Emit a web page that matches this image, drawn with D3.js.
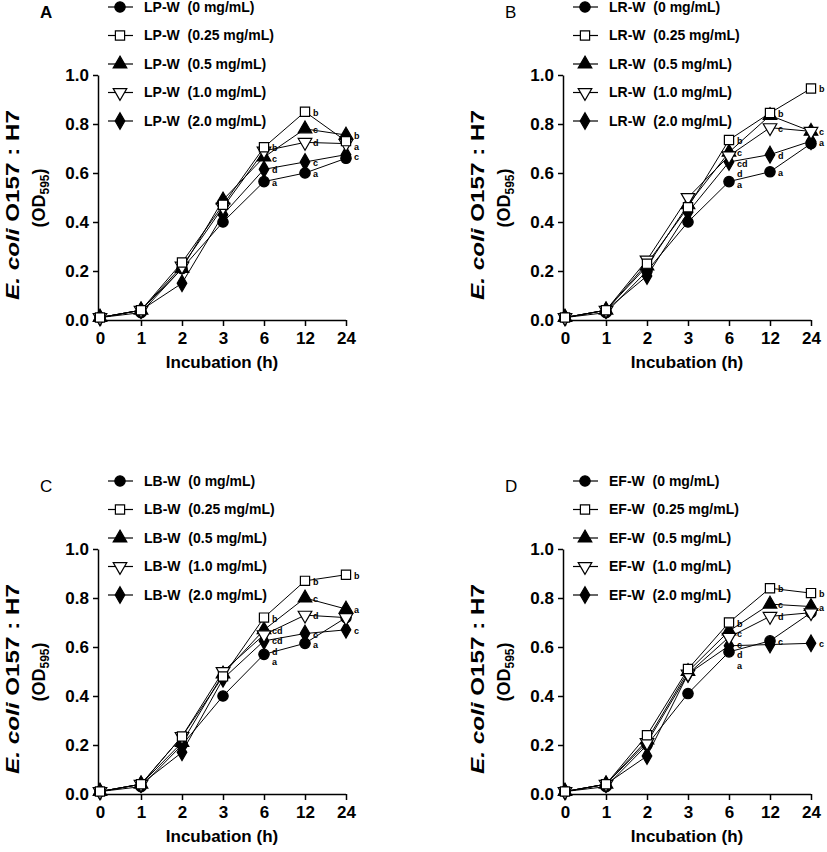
<!DOCTYPE html>
<html><head><meta charset="utf-8">
<script src="https://cdn.jsdelivr.net/npm/d3@7"></script>
<style>
body{margin:0;background:#fff;}
svg{font-family:"Liberation Sans",Arial,sans-serif;}
</style></head>
<body><svg id="c" width="827" height="852"></svg>
<script>
// ---------- data ----------
const hours = ["0","1","2","3","6","12","24"];
const concentrations = ["0 mg/mL","0.25 mg/mL","0.5 mg/mL","1.0 mg/mL","2.0 mg/mL"];
const yTicks = [0.0,0.2,0.4,0.6,0.8,1.0];
const panelLetters = ["A","B","C","D"];
const extracts = ["LP-W","LR-W","LB-W","EF-W"];

const seriesA = [
  [0.01,0.03,0.21,0.40,0.565,0.600,0.660],
  [0.01,0.04,0.235,0.47,0.705,0.850,0.730],
  [0.01,0.04,0.21,0.49,0.665,0.780,0.755],
  [0.01,0.04,0.22,0.46,0.690,0.725,0.720],
  [0.01,0.04,0.15,0.43,0.615,0.645,0.675]
];
const seriesB = [
  [0.01,0.03,0.20,0.40,0.565,0.605,0.720],
  [0.01,0.04,0.23,0.46,0.735,0.845,0.945],
  [0.01,0.04,0.22,0.47,0.685,0.835,0.770],
  [0.01,0.04,0.245,0.50,0.670,0.785,0.770],
  [0.01,0.04,0.18,0.44,0.645,0.675,0.730]
];
const seriesC = [
  [0.01,0.03,0.20,0.40,0.570,0.615,0.720],
  [0.01,0.04,0.235,0.48,0.720,0.870,0.895],
  [0.01,0.04,0.21,0.49,0.670,0.800,0.755],
  [0.01,0.04,0.235,0.50,0.650,0.730,0.720],
  [0.01,0.04,0.17,0.47,0.625,0.655,0.670]
];
const seriesD = [
  [0.01,0.03,0.20,0.41,0.580,0.625,0.740],
  [0.01,0.04,0.24,0.51,0.700,0.840,0.820],
  [0.01,0.04,0.22,0.50,0.665,0.775,0.765],
  [0.01,0.04,0.21,0.49,0.640,0.725,0.740],
  [0.01,0.04,0.155,0.49,0.605,0.610,0.615]
];
// significance letters: [series index, hour index, letter]
const lettersA = [[1,4,"b"],[2,4,"c"],[4,4,"d"],[0,4,"a"],[1,5,"b"],[2,5,"c"],[3,5,"d"],[4,5,"c"],[0,5,"a"],[2,6,"b"],[1,6,"a"],[4,6,"c"]];
const lettersB = [[1,4,"b"],[2,4,"c"],[3,4,"cd"],[4,4,"d"],[0,4,"a"],[1,5,"b"],[3,5,"c"],[4,5,"d"],[0,5,"a"],[1,6,"b"],[2,6,"c"],[4,6,"a"]];
const lettersC = [[1,4,"b"],[2,4,"cd"],[3,4,"cd"],[4,4,"d"],[0,4,"a"],[1,5,"b"],[2,5,"c"],[3,5,"d"],[4,5,"c"],[0,5,"a"],[1,6,"b"],[2,6,"a"],[4,6,"c"]];
const lettersD = [[1,4,"b"],[2,4,"c"],[3,4,"c"],[4,4,"d"],[0,4,"a"],[1,5,"b"],[2,5,"c"],[3,5,"d"],[0,5,"c"],[1,6,"b"],[2,6,"a"],[4,6,"c"]];

const allSeries = [seriesA,seriesB,seriesC,seriesD];
const allLetters = [lettersA,lettersB,lettersC,lettersD];

// ---------- layout ----------
const panels = [
  {ax:98, top:75, bottom:320},
  {ax:563, top:75, bottom:320},
  {ax:98, top:549, bottom:794},
  {ax:563, top:549, bottom:794}
];
const svg = d3.select("#c");

const symDefs = [
  {type:d3.symbolCircle, size:85, fill:"#000", rot:0},
  {type:d3.symbolSquare, size:85, fill:"#fff", rot:0},
  {type:d3.symbolTriangle, size:80, fill:"#000", rot:0},
  {type:d3.symbolTriangle, size:80, fill:"#fff", rot:180},
  {type:d3.symbolDiamond, size:80, fill:"#000", rot:0}
];
function drawSym(g, k, x, y){
  const s = symDefs[k];
  g.append("path")
    .attr("d", d3.symbol().type(s.type).size(s.size)())
    .attr("transform", `translate(${x},${y}) rotate(${s.rot})`)
    .attr("fill", s.fill).attr("stroke","#000").attr("stroke-width",1.2);
}

panels.forEach((p, pi) => {
  const g = svg.append("g");
  const x = d3.scalePoint().domain(hours).range([p.ax+2, p.ax+248]);
  const y = d3.scaleLinear().domain([0,1]).range([p.bottom, p.top]);

  // y axis
  const yAx = g.append("g").attr("transform",`translate(${p.ax},0)`)
    .call(d3.axisLeft(y).tickValues(yTicks).tickFormat(d3.format(".1f")).tickSize(5).tickSizeOuter(0));
  yAx.select(".domain").attr("stroke-width",1.5);
  yAx.selectAll(".tick line").attr("stroke-width",1.5);
  yAx.selectAll("text").attr("font-size",17).attr("font-weight","bold").attr("font-family","Liberation Sans, Arial").attr("dx",-1);

  // x axis
  const xAx = g.append("g").attr("transform",`translate(0,${p.bottom})`)
    .call(d3.axisBottom(x).tickSize(6).tickSizeOuter(0));
  xAx.select(".domain").attr("d",`M${p.ax},0.5H${p.ax+248}`).attr("stroke-width",1.5);
  xAx.selectAll(".tick line").attr("stroke-width",1.5);
  xAx.selectAll("text").attr("font-size",17).attr("font-weight","bold").attr("font-family","Liberation Sans, Arial").attr("dy","0.9em");

  // x title
  g.append("text").attr("x", p.ax+124).attr("y", p.bottom+48)
    .attr("text-anchor","middle").attr("font-size",17).attr("font-weight","bold")
    .text("Incubation (h)");

  // y title
  const yl1 = g.append("text")
    .attr("transform",`translate(${p.ax-79},${p.top+130}) rotate(-90)`)
    .attr("text-anchor","middle").attr("font-size",18).attr("font-weight","bold")
    .attr("textLength",190).attr("lengthAdjust","spacingAndGlyphs");
  yl1.append("tspan").attr("font-style","italic").text("E. coli");
  yl1.append("tspan").text(" O157 : H7");
  const yl2 = g.append("text")
    .attr("transform",`translate(${p.ax-53},${p.top+123}) rotate(-90)`)
    .attr("text-anchor","middle").attr("font-size",18).attr("font-weight","bold");
  yl2.append("tspan").text("(OD");
  yl2.append("tspan").attr("font-size",12).attr("dy",4).text("595");
  yl2.append("tspan").attr("dy",-4).text(")");

  // panel letter
  g.append("text").attr("x", p.ax-58).attr("y", p.top-57)
    .attr("font-size",17).attr("font-weight", pi===0?"bold":"normal")
    .text(panelLetters[pi]);

  // lines
  const data = allSeries[pi];
  const line = d3.line().x((d,i)=>x(hours[i])).y(d=>y(d));
  data.forEach((s,k)=>{
    g.append("path").attr("d", line(s)).attr("fill","none").attr("stroke","#000").attr("stroke-width",1);
  });
  // markers
  [0,4,2,3,1].forEach(k=>{
    data[k].forEach((v,i)=> drawSym(g,k,x(hours[i]),y(v)));
  });
  // letters with simple vertical collision avoidance per hour column
  const byHour = d3.group(allLetters[pi], d=>d[1]);
  byHour.forEach((arr, i)=>{
    const items = arr.map(([k,ii,t])=>({t, py: y(data[k][ii])+4}))
      .sort((a,b)=>a.py-b.py);
    for(let j=1;j<items.length;j++){
      if(items[j].py - items[j-1].py < 10.5) items[j].py = items[j-1].py + 10.5;
    }
    items.forEach(it=>{
      g.append("text").attr("x", x(hours[i])+8).attr("y", it.py)
        .attr("font-size",9).attr("font-weight","bold").text(it.t);
    });
  });

  // legend
  concentrations.forEach((c,k)=>{
    const ly = p.top - 68 + k*28.5;
    g.append("line").attr("x1",p.ax+10).attr("x2",p.ax+35).attr("y1",ly).attr("y2",ly)
      .attr("stroke","#000").attr("stroke-width",1.2);
    drawSym(g,k,p.ax+22,ly);
    g.append("text").attr("x",p.ax+46).attr("y",ly).attr("dy","0.35em")
      .attr("font-size",14).attr("font-weight","bold").attr("xml:space","preserve")
      .text(`${extracts[pi]}  (${c})`);
  });
});
</script></body></html>
